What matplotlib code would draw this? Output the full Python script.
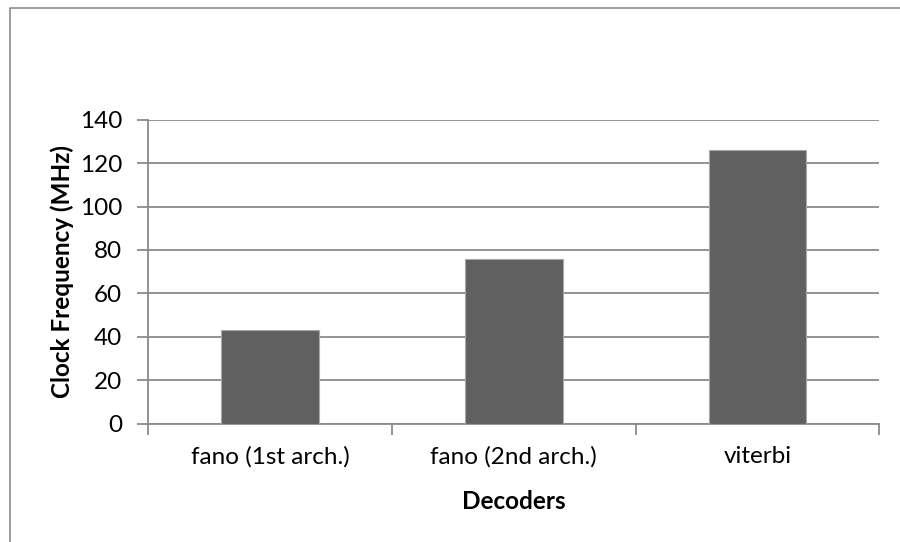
import matplotlib.pyplot as plt
from matplotlib.lines import Line2D
from matplotlib.ticker import FixedLocator, MultipleLocator

# clock frequency per decoder
decoders = ["fano (1st arch.)", "fano (2nd arch.)", "viterbi"]
freq_mhz = [43, 76, 126]

grid_col = "#8a8a8a"
bar_col = "#606060"

plt.rcParams["font.family"] = ["Lato", "DejaVu Sans"]

fig = plt.figure(figsize=(9, 5.42), dpi=100)
ax = fig.add_axes([0.1648, 0.2183, 0.977 - 0.1648, 0.7792 - 0.2183])

x = list(range(len(decoders)))
ax.bar(x, freq_mhz, width=0.4, color=bar_col, edgecolor="#a8a8a8",
       linewidth=0.8, zorder=3)

ax.set_xlim(-0.5, len(decoders) - 0.5)
ax.set_ylim(0, 140)
ax.yaxis.set_major_locator(MultipleLocator(20))
ax.grid(axis="y", color=grid_col, linewidth=1.3, zorder=0)

# category labels centred, tick marks on the boundaries
ax.xaxis.set_major_locator(FixedLocator([i - 0.5 for i in range(len(decoders) + 1)]))
ax.set_xticklabels([])
ax.xaxis.set_minor_locator(FixedLocator(x))
ax.set_xticklabels(decoders, minor=True)
ax.tick_params(axis="x", which="major", length=8, width=1.3, color=grid_col)
ax.tick_params(axis="x", which="minor", length=0, pad=16, labelsize=17.5)
ax.tick_params(axis="y", length=8, width=1.3, color=grid_col, pad=11, labelsize=17.5)

for s in ["top", "right"]:
    ax.spines[s].set_visible(False)
for s in ["left", "bottom"]:
    ax.spines[s].set_color(grid_col)
    ax.spines[s].set_linewidth(1.3)

ax.set_ylabel("Clock Frequency (MHz)", fontsize=17.5, fontweight="bold", labelpad=4)
ax.set_xlabel("Decoders", fontsize=17.5, fontweight="bold", labelpad=16)

# chart frame
fx = 9.5 / 900
fy = 1 - 7.5 / 542
fig.add_artist(Line2D([fx, fx, 1.0], [0.0, fy, fy], transform=fig.transFigure,
                      color="#8c8c8c", linewidth=1.2))

fig.savefig("out.png", dpi=100)
